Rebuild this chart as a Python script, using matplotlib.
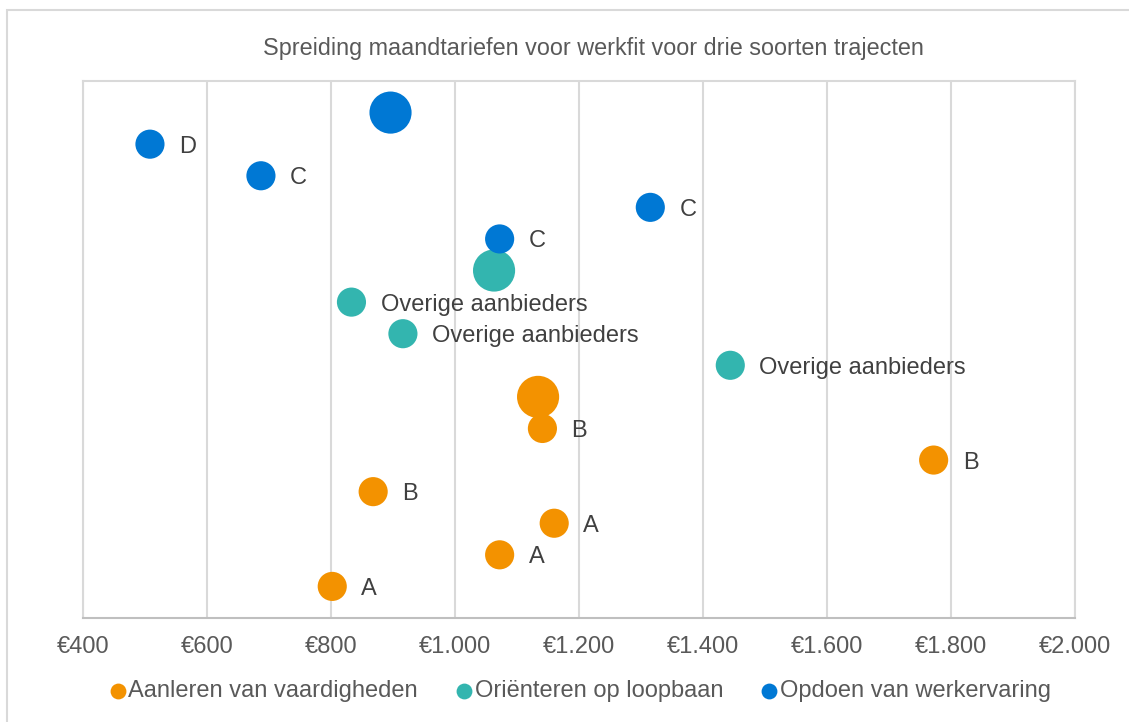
import matplotlib.pyplot as plt
from matplotlib.patches import Rectangle
from matplotlib.ticker import FuncFormatter

plt.rcParams['font.family'] = ['Liberation Sans', 'DejaVu Sans']

# data: monthly rates (x), row position (y), marker size class and label
title = 'Spreiding maandtariefen voor werkfit voor drie soorten trajecten'

series_names = ['Aanleren van vaardigheden', 'Oriënteren op loopbaan', 'Opdoen van werkervaring']
colors = ['#F39200', '#33B5AF', '#0078D4']

aanleren_x = [1134, 1141, 1772, 868, 1160, 1072, 802]
aanleren_y = [7, 6, 5, 4, 3, 2, 1]
aanleren_big = [True, False, False, False, False, False, False]
aanleren_lab = ['', 'B', 'B', 'B', 'A', 'A', 'A']

orient_x = [1063, 833, 916, 1444]
orient_y = [11, 10, 9, 8]
orient_big = [True, False, False, False]
orient_lab = ['', 'Overige aanbieders', 'Overige aanbieders', 'Overige aanbieders']

opdoen_x = [896, 508, 687, 1315, 1072]
opdoen_y = [16, 15, 14, 13, 12]
opdoen_big = [True, False, False, False, False]
opdoen_lab = ['', 'D', 'C', 'C', 'C']

xticks = list(range(400, 2001, 200))

grey_txt = '#595959'
grid_col = '#D9D9D9'

fig = plt.figure(figsize=(11.29, 7.22), dpi=100)
ax = fig.add_axes([83 / 1129, 1 - 618 / 722, (1075 - 83) / 1129, (618 - 81) / 722])

# outer chart border
fig.patches.append(Rectangle((7 / 1129, -0.1), 1.2, 1.1 - 10 / 722, transform=fig.transFigure,
                             fill=False, edgecolor=grid_col, linewidth=1.5))

all_series = [
    (aanleren_x, aanleren_y, aanleren_big, aanleren_lab),
    (orient_x, orient_y, orient_big, orient_lab),
    (opdoen_x, opdoen_y, opdoen_big, opdoen_lab),
]

for (xs, ys, big, labs), name, col in zip(all_series, series_names, colors):
    sizes = [920 if b else 440 for b in big]
    ax.scatter(xs, ys, s=sizes, color=col, linewidths=0, zorder=3)
    for x, y, lab in zip(xs, ys, labs):
        if lab:
            ax.annotate(lab, (x, y), xytext=(21, 0), textcoords='offset points',
                        ha='left', va='center_baseline', fontsize=17, color='#404040')
    # legend proxy
    ax.scatter([], [], s=130, color=col, linewidths=0, label=name)

ax.set_xlim(400, 2000)
ax.set_ylim(0, 17)
ax.set_xticks(xticks)
ax.xaxis.set_major_formatter(FuncFormatter(lambda v, p: '€' + f'{int(v):,}'.replace(',', '.')))
ax.set_yticks([])
ax.tick_params(axis='x', length=0, pad=13, labelsize=17, labelcolor=grey_txt)
ax.grid(axis='x', color=grid_col, linewidth=1.5, zorder=0)
ax.set_axisbelow(True)
for sp in ax.spines.values():
    sp.set_color(grid_col)
    sp.set_linewidth(1.5)
ax.spines['bottom'].set_color('#BFBFBF')

fig.text(593 / 1129, 1 - 49 / 722, title, ha='center', va='center', fontsize=16.8, color=grey_txt)

fig.legend(loc='center', bbox_to_anchor=(579 / 1129, 1 - 691 / 722), ncol=3, frameon=False,
           fontsize=17, labelcolor=grey_txt, handletextpad=0.0, columnspacing=1.5,
           handlelength=0.9)

fig.savefig('out.png', dpi=100)
